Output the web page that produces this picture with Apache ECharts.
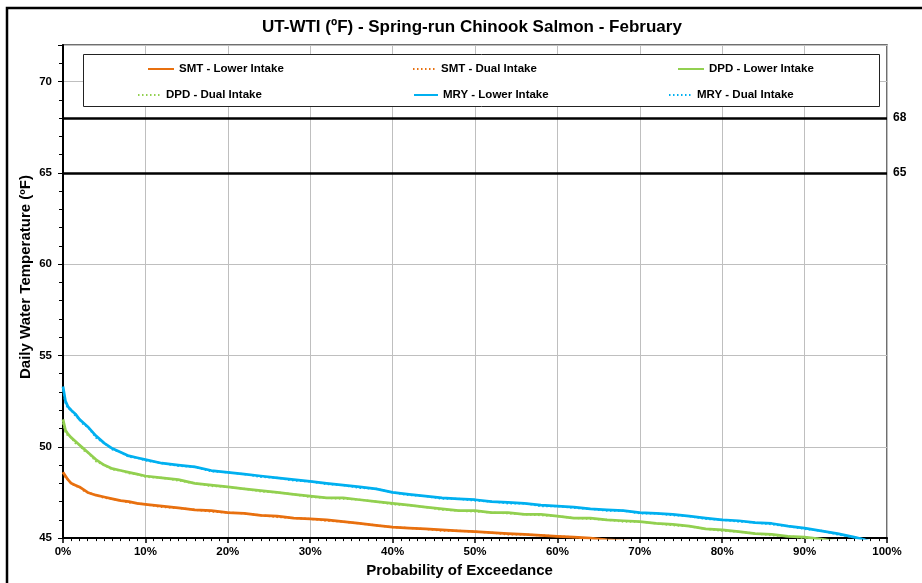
<!DOCTYPE html>
<html>
<head>
<meta charset="utf-8">
<script src="https://cdn.jsdelivr.net/npm/echarts@6/dist/echarts.min.js"></script>
<style>
  html, body { margin: 0; padding: 0; background: #fff; }
  #chart { width: 922px; height: 583px; }
</style>
</head>
<body>
<div id="chart"></div>
<script>
// Exceedance probability (%) for every sampled point
const exceedPct = [0, 0.3, 0.6, 1, 1.5, 2, 2.5, 3, 4, 5, 6, 7, 8, 9, 10, 12, 14, 16, 18, 20,
  22, 24, 26, 28, 30, 32, 34, 36, 38, 40, 42, 44, 46, 48, 50, 52, 54, 56, 58, 60,
  62, 64, 66, 68, 70, 72, 74, 76, 78, 80, 82, 84, 86, 88, 90, 92, 94, 96, 97, 98, 100];

// Daily water temperature (°F) per scenario
const smtLower = [48.6, 48.4, 48.2, 48.0, 47.9, 47.8, 47.65, 47.5, 47.35, 47.25, 47.15, 47.05, 47.0, 46.9, 46.85, 46.75, 46.65, 46.55, 46.5, 46.4,
  46.35, 46.25, 46.2, 46.1, 46.05, 46.0, 45.9, 45.8, 45.7, 45.6, 45.55, 45.5, 45.45, 45.4, 45.35, 45.3, 45.25, 45.2, 45.15, 45.1,
  45.05, 45.0, 44.9, 44.85, 44.8, 44.75, 44.7, 44.65, 44.6, 44.5, 44.45, 44.4, 44.3, 44.25, 44.2, 44.1, 44.0, 43.9, 43.85, 43.8, 43.6];
const smtDual = [48.6, 48.3, 48.2, 48.0, 47.85, 47.8, 47.6, 47.5, 47.35, 47.2, 47.15, 47.05, 46.95, 46.9, 46.85, 46.7, 46.65, 46.55, 46.45, 46.4,
  46.35, 46.25, 46.15, 46.1, 46.05, 45.95, 45.9, 45.8, 45.7, 45.6, 45.55, 45.5, 45.4, 45.4, 45.35, 45.3, 45.2, 45.2, 45.15, 45.1,
  45.05, 44.95, 44.9, 44.85, 44.8, 44.75, 44.7, 44.65, 44.6, 44.5, 44.45, 44.4, 44.3, 44.25, 44.2, 44.1, 44.0, 43.9, 43.85, 43.8, 43.6];

const dpdLower = [51.5, 50.9, 50.7, 50.5, 50.3, 50.1, 49.9, 49.7, 49.3, 49.0, 48.8, 48.7, 48.6, 48.5, 48.4, 48.3, 48.2, 48.0, 47.9, 47.8,
  47.7, 47.6, 47.5, 47.4, 47.3, 47.2, 47.2, 47.1, 47.0, 46.9, 46.8, 46.7, 46.6, 46.5, 46.5, 46.4, 46.4, 46.3, 46.3, 46.2,
  46.1, 46.1, 46.0, 45.95, 45.9, 45.8, 45.75, 45.65, 45.5, 45.45, 45.35, 45.25, 45.2, 45.1, 45.05, 44.95, 44.8, 44.7, 44.6, 44.5, 44.2];
const dpdDual = [51.3, 50.8, 50.6, 50.5, 50.2, 50.1, 49.8, 49.7, 49.2, 49.0, 48.75, 48.7, 48.55, 48.5, 48.35, 48.3, 48.15, 48.0, 47.85, 47.8,
  47.7, 47.55, 47.5, 47.4, 47.25, 47.2, 47.15, 47.1, 47.0, 46.85, 46.8, 46.7, 46.55, 46.5, 46.45, 46.4, 46.35, 46.3, 46.25, 46.2,
  46.1, 46.05, 46.0, 45.9, 45.9, 45.8, 45.7, 45.65, 45.5, 45.4, 45.35, 45.25, 45.15, 45.1, 45.0, 44.95, 44.8, 44.7, 44.6, 44.5, 44.2];

const mryLower = [53.3, 52.5, 52.2, 52.0, 51.8, 51.5, 51.3, 51.1, 50.6, 50.2, 49.9, 49.7, 49.5, 49.4, 49.3, 49.1, 49.0, 48.9, 48.7, 48.6,
  48.5, 48.4, 48.3, 48.2, 48.1, 48.0, 47.9, 47.8, 47.7, 47.5, 47.4, 47.3, 47.2, 47.15, 47.1, 47.0, 46.95, 46.9, 46.8, 46.75,
  46.7, 46.6, 46.55, 46.5, 46.4, 46.35, 46.3, 46.2, 46.1, 46.0, 45.95, 45.85, 45.8, 45.65, 45.55, 45.4, 45.25, 45.05, 44.95, 44.8, 44.5];
const mryDual = [53.1, 52.4, 52.1, 52.0, 51.7, 51.5, 51.2, 51.1, 50.5, 50.2, 49.85, 49.7, 49.45, 49.4, 49.25, 49.1, 48.95, 48.9, 48.65, 48.6,
  48.5, 48.35, 48.3, 48.15, 48.1, 47.95, 47.9, 47.75, 47.7, 47.5, 47.35, 47.3, 47.15, 47.15, 47.05, 47.0, 46.9, 46.9, 46.75, 46.75,
  46.65, 46.6, 46.5, 46.5, 46.35, 46.35, 46.25, 46.2, 46.05, 46.0, 45.9, 45.85, 45.75, 45.65, 45.5, 45.4, 45.2, 45.05, 44.95, 44.8, 44.5];

// Temperature thresholds drawn across the plot
const thresholds = [68, 65];

const FONT = '"Liberation Sans", Arial, sans-serif';
const ORANGE = '#E8700F';
const GREEN = '#92D050';
const BLUE = '#00B0F0';

function pairs(values) {
  return exceedPct.map((p, i) => [p, values[i]]);
}

function solid(name, color, values, extra) {
  return Object.assign({
    name: name, type: 'line', symbol: 'none', data: pairs(values),
    lineStyle: { color: color, width: 2.75, type: 'solid' }, itemStyle: { color: color },
    emphasis: { disabled: true }, animation: false
  }, extra || {});
}
function dotted(name, color, values) {
  return {
    name: name, type: 'line', symbol: 'none', data: pairs(values),
    lineStyle: { color: color, width: 2, type: [1.5, 2.5] }, itemStyle: { color: color },
    emphasis: { disabled: true }, animation: false
  };
}

// One legend block per entry so each sits in its own column of the boxed key
function legendItem(name, left, top, width) {
  return {
    data: [name], left: left, top: top, padding: 0, itemWidth: width, itemHeight: 10,
    selectedMode: false, z: 6,
    itemStyle: { opacity: 0, borderWidth: 0 },
    textStyle: { fontFamily: FONT, fontWeight: 'bold', fontSize: 11.5, color: '#000' }
  };
}

const chart = echarts.init(document.getElementById('chart'), null, { renderer: 'canvas' });

chart.setOption({
  backgroundColor: '#fff',
  animation: false,
  title: {
    text: 'UT-WTI (ºF) - Spring-run Chinook Salmon - February',
    left: 262, top: 19, padding: 0,
    textStyle: { fontFamily: FONT, fontWeight: 'bold', fontSize: 17, color: '#000' }
  },
  graphic: [
    { type: 'rect', shape: { x: 7, y: 8, width: 940, height: 600 }, silent: true, z: 0,
      style: { fill: 'none', stroke: '#000', lineWidth: 2.5 } },
    { type: 'rect', shape: { x: 83.5, y: 54.5, width: 796, height: 52 }, silent: true, z: 5,
      style: { fill: '#fff', stroke: '#222', lineWidth: 1 } }
  ],
  legend: [
    legendItem('SMT - Lower Intake', 147, 63, 26),
    legendItem('SMT - Dual Intake', 412, 63, 23),
    legendItem('DPD - Lower Intake', 677, 63, 26),
    legendItem('DPD - Dual Intake', 137, 89, 23),
    legendItem('MRY - Lower Intake', 413, 89, 24),
    legendItem('MRY - Dual Intake', 668, 89, 23)
  ],
  grid: {
    left: 63, right: 35, top: 45, bottom: 44, containLabel: false,
    show: true, borderColor: '#404040', borderWidth: 1.5, backgroundColor: 'transparent'
  },
  xAxis: {
    type: 'value', min: 0, max: 100, interval: 10,
    name: 'Probability of Exceedance', nameLocation: 'middle', nameGap: 24,
    nameTextStyle: { fontFamily: FONT, fontWeight: 'bold', fontSize: 15, color: '#000', padding: [0, 31, 0, 0] },
    axisLine: { show: true, onZero: false, lineStyle: { color: '#000', width: 2 } },
    axisTick: { show: true, length: 5, lineStyle: { color: '#000', width: 1.5 } },
    minorTick: { show: true, splitNumber: 10, length: 3, lineStyle: { color: '#000', width: 1 } },
    axisLabel: { formatter: '{value}%', margin: 8, fontFamily: FONT, fontWeight: 'bold', fontSize: 11.5, color: '#000' },
    splitLine: { show: true, lineStyle: { color: '#BFBFBF', width: 1 } }
  },
  yAxis: {
    type: 'value', min: 45, max: 72, interval: 5,
    name: 'Daily Water Temperature (ºF)', nameLocation: 'middle', nameGap: 30, nameRotate: 90,
    nameMoveOverlap: false,
    nameTextStyle: { fontFamily: FONT, fontWeight: 'bold', fontSize: 15, color: '#000', padding: [0, 0, 0, 29] },
    axisLine: { show: true, onZero: false, lineStyle: { color: '#000', width: 2 } },
    axisTick: { show: true, length: 5, lineStyle: { color: '#000', width: 1 } },
    minorTick: { show: true, splitNumber: 5, length: 4, lineStyle: { color: '#000', width: 1 } },
    axisLabel: { margin: 11, showMaxLabel: false, fontFamily: FONT, fontWeight: 'bold', fontSize: 11.5, color: '#000' },
    splitLine: { show: true, lineStyle: { color: '#BFBFBF', width: 1 } }
  },
  series: [
    solid('SMT - Lower Intake', ORANGE, smtLower, {
      markLine: {
        silent: true, symbol: ['none', 'none'], animation: false,
        lineStyle: { color: '#000', width: 2.5, type: 'solid' },
        label: { position: 'end', formatter: '{c}', distance: 6, fontFamily: FONT, fontWeight: 'bold', fontSize: 12, color: '#000' },
        data: thresholds.map(v => ({ yAxis: v }))
      }
    }),
    dotted('SMT - Dual Intake', ORANGE, smtDual),
    solid('DPD - Lower Intake', GREEN, dpdLower),
    dotted('DPD - Dual Intake', GREEN, dpdDual),
    solid('MRY - Lower Intake', BLUE, mryLower),
    dotted('MRY - Dual Intake', BLUE, mryDual)
  ]
});
</script>
</body>
</html>
